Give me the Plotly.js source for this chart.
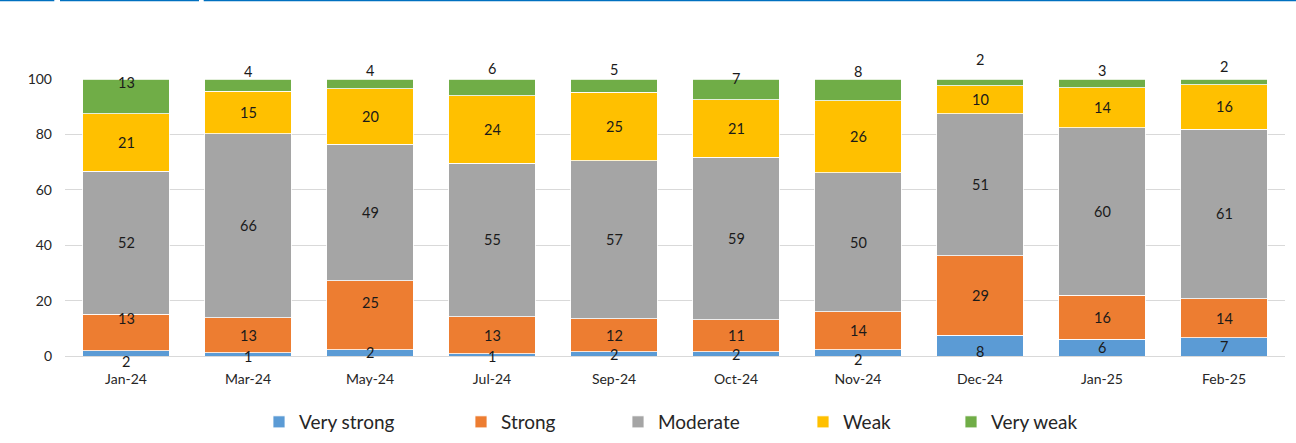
<!DOCTYPE html>
<html><head><meta charset="utf-8">
<script src="https://cdn.plot.ly/plotly-3.0.1.min.js"></script>
<style>html,body{margin:0;padding:0;background:#fff}#chart{width:1296px;height:443px}</style>
</head><body><div id="chart"></div>
<script>
// ---- data ----
const categories = ['Jan-24','Mar-24','May-24','Jul-24','Sep-24','Oct-24','Nov-24','Dec-24','Jan-25','Feb-25'];
const veryStrong = [1.9, 1.2, 2.2, 0.8, 1.6, 1.6, 2.2, 7.5, 6.0, 6.6];
const strong     = [13.2, 12.7, 25.0, 13.4, 11.9, 11.4, 13.8, 28.7, 16.0, 14.1];
const moderate   = [51.6, 66.3, 49.2, 55.4, 57.0, 58.8, 50.2, 51.3, 60.4, 61.2];
const weak       = [20.7, 15.4, 20.0, 24.4, 24.7, 20.8, 26.0, 10.1, 14.4, 16.0];
const veryWeak   = [12.6, 4.4, 3.6, 6.0, 4.8, 7.4, 7.8, 2.4, 3.2, 2.1];
const seriesNames = ['Very strong','Strong','Moderate','Weak','Very weak'];
const yTicks = [0, 20, 40, 60, 80, 100];

// ---- styles ----
const FONT = 'Lato, "Open Sans", sans-serif';
const colors = ['#5B9BD5','#ED7D31','#A5A5A5','#FFC000','#70AD47'];
const legendSquareLeft = [278, 480, 637, 822, 970]; // px in container
const labelShift = [ // px, upward positive
  [-8,-2,0,-2,-1,-1,-7,-6,0,0],
  [14,0,13,0,0,0,0,0,0,0],
  [0,0,0,0,0,0,0,0,0,0],
  [0,0,0,0,0,0,0,0,0,0],
  [14,14,13,19,16,11,18,23,13,15]
];

const series = [veryStrong, strong, moderate, weak, veryWeak];
const legendIds = ['legend','legend2','legend3','legend4','legend5'];

const traces = series.map((vals, i) => ({
  type: 'bar', name: seriesNames[i], x: categories, y: vals,
  marker: {color: colors[i], line: {color: 'rgba(255,255,255,0.8)', width: 1}},
  legend: legendIds[i], showlegend: true, hoverinfo: 'x+y+name'
}));

const annotations = [];
const base = categories.map(() => 0);
series.forEach((vals, i) => {
  vals.forEach((v, j) => {
    annotations.push({
      x: categories[j], y: base[j] + v / 2, xref: 'x', yref: 'y',
      text: String(Math.round(v)), showarrow: false,
      yshift: labelShift[i][j], font: {family: FONT, size: 14.5, color: '#1a1a1a'}
    });
    base[j] += v;
  });
});

const layout = {
  width: 1296, height: 443,
  margin: {l: 65, r: 11, t: 79, b: 87},
  paper_bgcolor: '#fff', plot_bgcolor: '#fff',
  barmode: 'stack', bargap: 0.287,
  showlegend: true,
  font: {family: FONT, size: 14, color: '#262626'},
  xaxis: {type: 'category', showgrid: false, showline: false, ticks: '',
          tickfont: {family: FONT, size: 14, color: '#262626'}, ticklabelstandoff: 13, fixedrange: true},
  yaxis: {range: [0, 100], tickvals: yTicks, showgrid: true, gridcolor: '#D9D9D9', gridwidth: 1,
          zeroline: true, zerolinecolor: '#D9D9D9', zerolinewidth: 1, showline: false, ticks: '',
          tickfont: {family: FONT, size: 14, color: '#262626'}, ticklabelstandoff: 12, fixedrange: true},
  annotations: annotations,
  shapes: [
    [0, 54.3], [60, 199], [203.7, 1296]
  ].map(seg => ({type: 'line', xref: 'paper', yref: 'paper',
    x0: (seg[0] - 65) / 1220, x1: (seg[1] - 65) / 1220,
    y0: (356 - 0.5) / 277, y1: (356 - 0.5) / 277,
    line: {color: '#0070C0', width: 1.5}}))
};
legendIds.forEach((id, i) => {
  layout[id] = {
    visible: true,
    orientation: 'h', xref: 'container', yref: 'container',
    x: (legendSquareLeft[i] - 19) / 1296, y: 1 - 422 / 443,
    xanchor: 'left', yanchor: 'middle',
    font: {family: FONT, size: 19, color: '#262626'},
    bgcolor: 'rgba(0,0,0,0)', borderwidth: 0
  };
});

Plotly.newPlot('chart', traces, layout, {displayModeBar: false});
</script>
</body></html>
